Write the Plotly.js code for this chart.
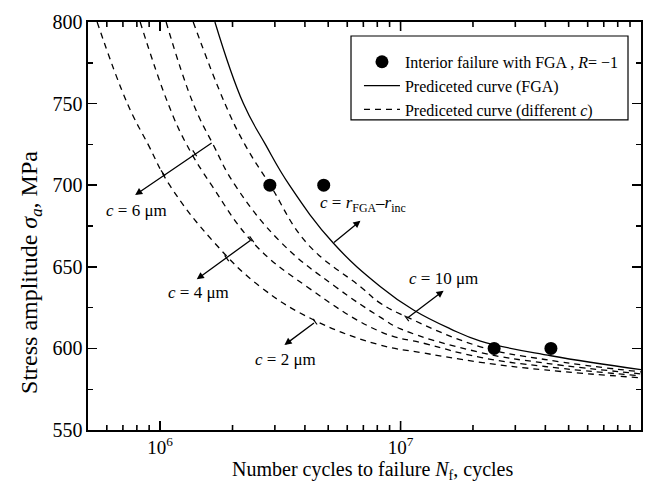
<!DOCTYPE html>
<html>
<head>
<meta charset="utf-8">
<script src="https://cdn.plot.ly/plotly-3.0.1.min.js"></script>
<style>html,body{margin:0;padding:0;background:#fff;}#chart{width:651px;height:496px;}</style>
</head>
<body>
<div id="chart"></div>
<script>
// Experimental points (interior failure with FGA, R = -1)
const expN = [2.86e6, 4.79e6, 2.45e7, 4.22e7];
const expS = [700, 700, 600, 600];

// Predicted curve (FGA) - solid
const fgaN = [1.69e6, 2.22e6, 2.74e6, 3.45e6, 5.26e6, 8.25e6, 1.132e7, 1.61e7, 2.15e7, 4.22e7, 1.0e8];
const fgaS = [800, 750, 725, 700, 664.4, 637.8, 623.5, 612, 604.5, 595.5, 587];

// Predicted curves for different c - dashed (nearest FGA curve first)
const c10N = [1.373e6, 1.86e6, 2.25e6, 2.87e6, 4.08e6, 6.81e6, 8.26e6, 1.06e7, 2.15e7, 3.98e7, 1.0e8];
const c10S = [800, 750, 725, 700, 664.4, 637.8, 627.6, 619.3, 601, 593.2, 585.6];

const c6N = [1.059e6, 1.373e6, 1.66e6, 2.05e6, 3.21e6, 5.36e6, 8.26e6, 1.0e7, 2.15e7, 3.98e7, 1.0e8];
const c6S = [800, 750, 725, 700, 664.4, 637.8, 619, 612, 597.5, 591, 584.4];

const c4N = [8.26e5, 1.079e6, 1.288e6, 1.637e6, 2.45e6, 4.08e6, 8.26e6, 1.26e7, 2.15e7, 3.98e7, 1.0e8];
const c4S = [800, 750, 725, 700, 664.4, 637.8, 610.2, 603, 594.5, 588.9, 583.2];

const c2N = [5.47e5, 7.31e5, 8.91e5, 1.096e6, 1.69e6, 2.61e6, 4.36e6, 8.26e6, 1.21e7, 2.15e7, 3.98e7, 1.0e8];
const c2S = [800, 750, 725, 700, 664.4, 637.8, 617.4, 602, 597.5, 591.5, 586.8, 582];

// Axis ticks
const xMajor = [1e6, 1e7, 1e8];
const xMajorText = ['10<sup>6</sup>', '10<sup>7</sup>', '10<sup>8</sup>'];
const xMinor = [6e5, 7e5, 8e5, 9e5, 2e6, 3e6, 4e6, 5e6, 6e6, 7e6, 8e6, 9e6,
                2e7, 3e7, 4e7, 5e7, 6e7, 7e7, 8e7, 9e7];
const yMajor = [550, 600, 650, 700, 750, 800];

const serif = 'Liberation Serif, Times New Roman, serif';
const dashStyle = {color: '#000', width: 1.3, dash: '6px,5px', shape: 'spline', smoothing: 1.2};

const dashedSets = [[c10N, c10S], [c6N, c6S], [c4N, c4S], [c2N, c2S]];

const traces = [
  {x: expN, y: expS, mode: 'markers', type: 'scatter',
   name: 'Interior failure with FGA , <i>R</i>= \u22121',
   marker: {color: '#000', size: 13}},
  {x: fgaN, y: fgaS, mode: 'lines', type: 'scatter',
   name: 'Prediceted curve (FGA)',
   line: {color: '#000', width: 1.3, shape: 'spline', smoothing: 1.2}}
];
dashedSets.forEach((d, i) => {
  traces.push({x: d[0], y: d[1], mode: 'lines', type: 'scatter',
    name: 'Prediceted curve (different <i>c</i>)',
    showlegend: i === 0, line: dashStyle});
});

const L = Math.log10;
const XR = [5.7, 8.0];

const arrowDefs = [
  {x: L(7.87e5), y: 694.0, ax: 78, ay: -53},
  {x: L(1.42e6), y: 642.3, ax: 55, ay: -40},
  {x: L(3.29e6), y: 602.1, ax: 31, ay: -23},
  {x: L(1.51e7), y: 635.4, ax: -37, ay: 28},
  {x: L(6.81e6), y: 678.2, ax: -28, ay: 23}
];
const labelDefs = [
  {x: L(7.94e5), y: 684.3, text: '<i>c</i> = 6 \u03bcm'},
  {x: L(1.44e6), y: 634.3, text: '<i>c</i> = 4 \u03bcm'},
  {x: L(3.33e6), y: 593.3, text: '<i>c</i> = 2 \u03bcm'},
  {x: L(1.51e7), y: 643.1, text: '<i>c</i> = 10 \u03bcm'},
  {x: L(6.95e6), y: 688.2, text: '<i>c</i> = <i>r</i><sub>FGA</sub>\u2013<i>r</i><sub>inc</sub>'}
];

const annotations = [];
arrowDefs.forEach(a => annotations.push({
  x: a.x, y: a.y, xref: 'x', yref: 'y', ax: a.ax, ay: a.ay,
  text: '', showarrow: true, arrowhead: 2, arrowsize: 1.1, arrowwidth: 1.3, arrowcolor: '#000'
}));
labelDefs.forEach(t => annotations.push({
  x: t.x, y: t.y, xref: 'x', yref: 'y', text: t.text, showarrow: false,
  font: {family: serif, size: 17, color: '#000'}
}));
// axis titles
annotations.push({
  xref: 'paper', yref: 'paper', x: -0.103, y: 0.385, xanchor: 'center', yanchor: 'middle',
  textangle: -90, showarrow: false,
  text: 'Stress amplitude <i>\u03c3</i><sub><i>a</i></sub>, MPa',
  font: {family: serif, size: 24, color: '#000'}
});
annotations.push({
  xref: 'paper', yref: 'paper', x: 0.5136, y: -0.1, xanchor: 'center', yanchor: 'middle',
  showarrow: false,
  text: 'Number cycles to failure <i>N</i><sub>f</sub>, cycles',
  font: {family: serif, size: 20, color: '#000'}
});

// small cross-ticks on the arrows (pixel positions converted to paper fractions)
const PW = 553, PH = 408, PL = 88, PB = 430;
const tickMarks = [
  [194.7, 153.3, 0.562, 0.827], [163, 173.3, 0.562, 0.827],
  [251.7, 239.3, 0.588, 0.809], [226.7, 258.3, 0.588, 0.809],
  [315, 321.7, 0.6, 0.8], [406.7, 318.3, 0.602, 0.798]
];
const shapes = [{type: 'rect', xref: 'paper', yref: 'paper',
  x0: 0.4756, x1: 0.9765, y0: 0.76, y1: 0.9657,
  line: {color: '#000', width: 1.2}, fillcolor: 'rgba(0,0,0,0)', layer: 'above'}];
tickMarks.forEach(t => {
  const h = 3.5;
  shapes.push({type: 'line', xref: 'paper', yref: 'paper',
    x0: (t[0] - h * t[2] - PL) / PW, y0: (PB - (t[1] - h * t[3])) / PH,
    x1: (t[0] + h * t[2] - PL) / PW, y1: (PB - (t[1] + h * t[3])) / PH,
    line: {color: '#000', width: 1.2}, layer: 'above'});
});
// x-axis tick marks (bottom and mirrored top), placed on the log scale of the axis range
function addXTicks(vals, len) {
  vals.forEach(v => {
    const p = (L(v) - XR[0]) / (XR[1] - XR[0]);
    const d = len / PH;
    shapes.push({type: 'line', xref: 'paper', yref: 'paper', x0: p, x1: p + 0.0001, y0: 0, y1: d,
      line: {color: '#000', width: 1.6}, layer: 'above'});
    shapes.push({type: 'line', xref: 'paper', yref: 'paper', x0: p, x1: p + 0.0001, y0: 1, y1: 1 - d,
      line: {color: '#000', width: 1.6}, layer: 'above'});
  });
}
addXTicks(xMajor.filter(v => L(v) < XR[1] - 1e-9), 9);
addXTicks(xMinor, 5);

const layout = {
  width: 651, height: 496,
  margin: {l: 88, r: 10, t: 22, b: 66},
  paper_bgcolor: '#fff', plot_bgcolor: '#fff',
  font: {family: serif, color: '#000'},
  showlegend: true,
  legend: {x: 0.49, y: 0.944, xanchor: 'left', yanchor: 'top',
    borderwidth: 0, bgcolor: 'rgba(0,0,0,0)', itemwidth: 36,
    font: {family: serif, size: 16, color: '#000'}, tracegroupgap: 0},
  shapes: shapes,
  xaxis: {
    type: 'log', range: XR,
    tickmode: 'array', tickvals: xMajor, ticktext: xMajorText,
    ticks: 'inside', ticklen: 9, tickwidth: 1.5, tickcolor: '#000',
    showline: true, linecolor: '#000', linewidth: 1.6, mirror: 'allticks',
    showgrid: false, zeroline: false,
    tickfont: {family: serif, size: 19, color: '#000'}
  },
  yaxis: {
    range: [550, 800], tickmode: 'array', tickvals: yMajor,
    ticks: 'inside', ticklen: 9, tickwidth: 1.5, tickcolor: '#000',
    minor: {dtick: 25, ticks: 'inside', ticklen: 5, tickwidth: 1.4, tickcolor: '#000', showgrid: false},
    showline: true, linecolor: '#000', linewidth: 1.6, mirror: 'allticks',
    showgrid: false, zeroline: false,
    tickfont: {family: serif, size: 20, color: '#000'}
  },
  annotations: annotations
};

Plotly.newPlot('chart', traces, layout, {displayModeBar: false, staticPlot: true});
</script>
</body>
</html>
